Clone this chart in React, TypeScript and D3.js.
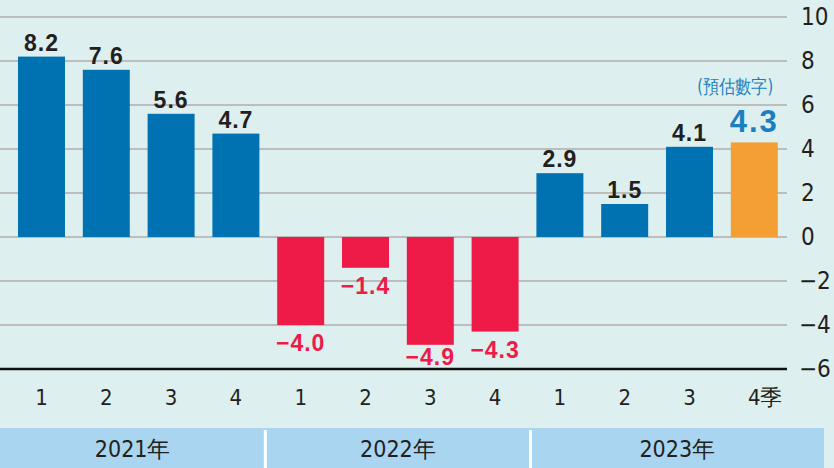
import React from "react";
import * as d3 from "d3";

const quarters = ["1", "2", "3", "4", "1", "2", "3", "4", "1", "2", "3", "4"];
const values = [8.2, 7.6, 5.6, 4.7, -4.0, -1.4, -4.9, -4.3, 2.9, 1.5, 4.1, 4.3];
const labels = ["8.2", "7.6", "5.6", "4.7", "−4.0", "−1.4", "−4.9", "−4.3", "2.9", "1.5", "4.1", "4.3"];
const estimated = [false, false, false, false, false, false, false, false, false, false, false, true];
const years = ["2021年", "2022年", "2023年"];
const yTicks = [-6, -4, -2, 0, 2, 4, 6, 8, 10];
const tickLabels = ["−6", "−4", "−2", "0", "2", "4", "6", "8", "10"];

const W = 834;
const H = 468;
const BG = "#ddf0ef";
const BLUE = "#0071b1";
const RED = "#ee1a48";
const ORANGE = "#f39f34";
const LABEL_BLUE = "#1a7fc0";
const DARK = "#231f20";
const NARROW = "'Liberation Sans Narrow', 'DejaVu Sans Condensed', 'Liberation Sans', sans-serif";
const BOLD = "'Liberation Sans', Arial, sans-serif";

export default function App() {
  const x = d3
    .scaleBand<number>()
    .domain(d3.range(values.length))
    .range([9.1, 786.7])
    .paddingInner(0.275)
    .paddingOuter(0.1375);
  const y = d3.scaleLinear().domain([-6, 10]).range([369, 17]);
  const bw = x.bandwidth();

  const sep1 = ((x(3) as number) + bw + (x(4) as number)) / 2 - 3;
  const sep2 = ((x(7) as number) + bw + (x(8) as number)) / 2 + 3;
  const segs = [
    [0, sep1],
    [sep1, sep2],
    [sep2, 824],
  ];

  return (
    <svg
      width={W}
      height={H}
      style={{ position: "absolute", left: 0, top: 0, display: "block" }}
    >
      <rect x={0} y={0} width={W} height={H} fill={BG} />
      {/* unit label, cut off at top as in the source */}
      <text x={826} y={-3} textAnchor="end" fontFamily={NARROW} fontSize={20} fill={DARK}>
        按年變動 (%)
      </text>
      {/* gridlines */}
      {yTicks
        .filter((t) => t > -6)
        .map((t) => (
          <line key={t} x1={0} x2={787} y1={y(t)} y2={y(t)} stroke="#bdbdbd" strokeWidth={2} />
        ))}
      {/* tick labels */}
      {yTicks.map((t, i) => (
        <text
          key={t}
          x={t < 0 ? 799 : 801}
          y={y(t) + 8}
          fontFamily={NARROW}
          fontSize={24}
          fill={DARK}
        >
          {tickLabels[i]}
        </text>
      ))}
      {/* bars */}
      {values.map((v, i) => (
        <rect
          key={i}
          x={x(i)}
          width={bw}
          y={y(Math.max(0, v))}
          height={Math.abs(y(v) - y(0))}
          fill={estimated[i] ? ORANGE : v < 0 ? RED : BLUE}
        />
      ))}
      {/* axis line */}
      <line x1={0} x2={787} y1={y(-6)} y2={y(-6)} stroke="#111" strokeWidth={2.5} />
      {/* value labels */}
      {values.map((v, i) => {
        const cx = (x(i) as number) + bw / 2;
        if (estimated[i]) {
          return (
            <text
              key={i}
              x={cx}
              y={y(v) - 10}
              textAnchor="middle"
              fontFamily={BOLD}
              fontWeight="bold"
              fontSize={31}
              letterSpacing={2}
              fill={LABEL_BLUE}
            >
              {labels[i]}
            </text>
          );
        }
        return (
          <text
            key={i}
            x={cx}
            y={v >= 0 ? y(v) - 6 : Math.min(y(v) + 26, y(-6) - 4)}
            textAnchor="middle"
            fontFamily={BOLD}
            fontWeight="bold"
            fontSize={23}
            letterSpacing={1}
            fill={v < 0 ? RED : DARK}
          >
            {labels[i]}
          </text>
        );
      })}
      {/* estimate note */}
      <text
        x={(x(11) as number) + bw / 2 - 19}
        y={93}
        textAnchor="middle"
        fontFamily={NARROW}
        fontSize={19}
        fill={LABEL_BLUE}
        textLength={76}
        lengthAdjust="spacingAndGlyphs"
      >
        (預估數字)
      </text>
      {/* quarter labels */}
      {quarters.map((q, i) => {
        const cx = (x(i) as number) + bw / 2;
        return (
          <g key={i}>
            <text x={cx} y={405} textAnchor="middle" fontFamily={NARROW} fontSize={22} fill={DARK}>
              {q}
            </text>
            {i === quarters.length - 1 && (
              <text x={cx + 6} y={405} fontFamily={NARROW} fontSize={22} fill={DARK}>
                季
              </text>
            )}
          </g>
        );
      })}
      {/* year band */}
      <rect x={0} y={428} width={824} height={40} fill="#a9d5f0" />
      {[sep1, sep2].map((s, i) => (
        <line key={i} x1={s} x2={s} y1={430} y2={468} stroke="#ffffff" strokeWidth={3} />
      ))}
      {years.map((yr, i) => (
        <text
          key={yr}
          x={(segs[i][0] + segs[i][1]) / 2}
          y={457}
          textAnchor="middle"
          fontFamily={NARROW}
          fontSize={23}
          fill={DARK}
        >
          {yr}
        </text>
      ))}
    </svg>
  );
}
